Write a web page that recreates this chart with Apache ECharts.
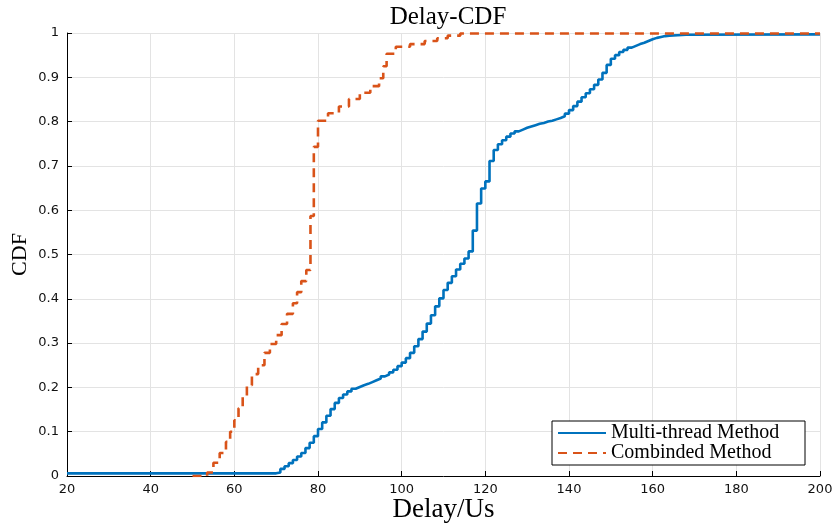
<!DOCTYPE html>
<html>
<head>
<meta charset="utf-8">
<title>Delay-CDF</title>
<script src="https://cdn.jsdelivr.net/npm/echarts@6/dist/echarts.min.js"></script>
<style>
	html, body { margin: 0; padding: 0; background: #fff; }
	#chart { width: 834px; height: 523px; }
</style>
</head>
<body>
<div id="chart"></div>
<script>
'use strict';

/* axis range */
var xMin = 20, xMax = 200, xStep = 20;
var yMin = 0, yMax = 1, yStep = 0.1;

/* series names */
var names = ['Multi-thread Method', 'Combinded Method'];

/* Multi-thread Method: delay / cdf */
var multiDelay = [20, 70, 71, 72, 73, 74, 75, 76, 77, 78, 79, 80, 81, 82, 83, 84, 85, 86, 87, 88, 89,
	90, 91, 92, 93, 94, 95, 96, 97, 98, 99, 100, 101, 102, 103, 104, 105, 106, 107, 108, 109,
	110, 111, 112, 113, 114, 115, 116, 117, 118, 119, 120, 121, 122, 123, 124, 125, 126, 127, 128, 129,
	130, 131, 132, 133, 134, 135, 136, 137, 138, 139, 140, 141, 142, 143, 144, 145, 146, 147, 148, 149,
	150, 151, 152, 153, 154, 155, 156, 157, 158, 159, 160, 161, 162, 163, 164, 166, 168, 200];
var multiCdf = [0.006, 0.008, 0.016, 0.022, 0.029, 0.036, 0.044, 0.052, 0.063, 0.075, 0.09, 0.106, 0.121, 0.136, 0.151, 0.165, 0.176, 0.184, 0.191, 0.197, 0.201,
	0.205, 0.208, 0.212, 0.216, 0.22, 0.225, 0.229, 0.234, 0.24, 0.248, 0.256, 0.266, 0.278, 0.293, 0.309, 0.326, 0.344, 0.363, 0.383, 0.401,
	0.42, 0.436, 0.451, 0.466, 0.479, 0.491, 0.507, 0.554, 0.615, 0.649, 0.665, 0.711, 0.736, 0.749, 0.758, 0.766, 0.773, 0.778, 0.782, 0.786,
	0.789, 0.792, 0.795, 0.797, 0.8, 0.802, 0.805, 0.808, 0.812, 0.818, 0.826, 0.835, 0.845, 0.855, 0.864, 0.873, 0.883, 0.895, 0.91, 0.928,
	0.942, 0.95, 0.957, 0.962, 0.967, 0.971, 0.975, 0.978, 0.982, 0.986, 0.989, 0.991, 0.993, 0.994, 0.995, 0.996, 0.997, 0.997];

/* Combinded Method: delay / cdf */
var combDelay = [50, 53.5, 55, 56.5, 58, 59, 60, 61, 62, 63, 64.2, 65.7, 67.2, 68.5, 70, 71.3, 72.6, 74, 75, 76,
	77.2, 78.2, 79, 80, 82.4, 85, 87.4, 90, 92.5, 94.6, 95.6, 96.4, 98.6, 102, 105.5, 108.5, 111, 114, 200];
var combCdf = [0, 0.008, 0.03, 0.052, 0.077, 0.1, 0.126, 0.153, 0.18, 0.205, 0.23, 0.25, 0.278, 0.298, 0.318, 0.343, 0.366, 0.39, 0.415, 0.44,
	0.465, 0.587, 0.743, 0.802, 0.819, 0.834, 0.851, 0.865, 0.88, 0.898, 0.925, 0.953, 0.969, 0.975, 0.982, 0.988, 0.994, 0.999, 0.999];


(function(window, undefined){

	var SERIF = '"Liberation Serif", "Times New Roman", serif',
			SANS = '"DejaVu Sans", sans-serif';

	/**
	 * 把两列数组拼成 [x, y] 点
	 * @param {Array} xs
	 * @param {Array} ys
	 * @return {Array}
	 */
	function zip(xs, ys){
		return xs.map(function(v, i){ return [v, ys[i]]; });
	}

	/**
	 * 坐标轴公共样式
	 * @param {Object} extra
	 * @return {Object}
	 */
	function axis(extra){
		var base = {
			type: 'value',
			axisLine: { show: true, onZero: false, lineStyle: { color: '#000', width: 1 } },
			axisTick: { show: true, inside: true, length: 5, lineStyle: { color: '#000' } },
			splitLine: { show: true, lineStyle: { color: '#e3e3e3', width: 1 } },
			nameLocation: 'middle',
			nameMoveOverlap: false,
		};
		for(var k in extra){ base[k] = extra[k]; }
		return base;
	}

	var option = {
		animation: false,
		backgroundColor: '#fff',
		title: {
			text: 'Delay-CDF',
			left: 443, top: 0,
			textAlign: 'center',
			textStyle: { fontFamily: SERIF, fontSize: 25, fontWeight: 'normal', color: '#000' },
		},
		grid: { left: 67, right: 14, top: 33, bottom: 47, containLabel: false, outerBoundsMode: 'none' },
		legend: {
			orient: 'vertical',
			left: 552, top: 421,
			align: 'left',
			backgroundColor: '#fff',
			borderColor: '#000',
			borderWidth: 1,
			borderRadius: 0,
			padding: [2, 4, 2, 5],
			itemGap: 0,
			itemWidth: 48,
			itemHeight: 10,
			itemStyle: { opacity: 0 },
			textStyle: { fontFamily: SERIF, fontSize: 20, color: '#000', lineHeight: 20, width: 190 },
			data: names,
		},
		xAxis: axis({
			min: xMin, max: xMax, interval: xStep,
			name: 'Delay/Us', nameGap: 20,
			nameTextStyle: { color: '#000', fontFamily: SERIF, fontSize: 27 },
			axisLabel: { color: '#111', fontFamily: SANS, fontSize: 13, margin: 7 },
		}),
		yAxis: axis({
			min: yMin, max: yMax, interval: yStep,
			name: 'CDF', nameGap: 36,
			nameTextStyle: { color: '#000', fontFamily: SERIF, fontSize: 22 },
			axisLabel: { color: '#111', fontFamily: SANS, fontSize: 13, margin: 8 },
		}),
		series: [
			{
				name: names[0],
				type: 'line',
				step: 'end',
				symbol: 'none',
				showSymbol: false,
				data: zip(multiDelay, multiCdf),
				lineStyle: { color: '#0072BD', width: 2.6 },
				itemStyle: { color: '#0072BD' },
			},
			{
				name: names[1],
				type: 'line',
				step: 'end',
				symbol: 'none',
				showSymbol: false,
				data: zip(combDelay, combCdf),
				lineStyle: { color: '#D95319', width: 2.6, type: [9, 6] },
				itemStyle: { color: '#D95319' },
			},
		],
	};

	echarts.init(document.getElementById('chart'), null, { renderer: 'canvas' }).setOption(option);

})(typeof window !== 'undefined' ? window : this, undefined);
</script>
</body>
</html>
